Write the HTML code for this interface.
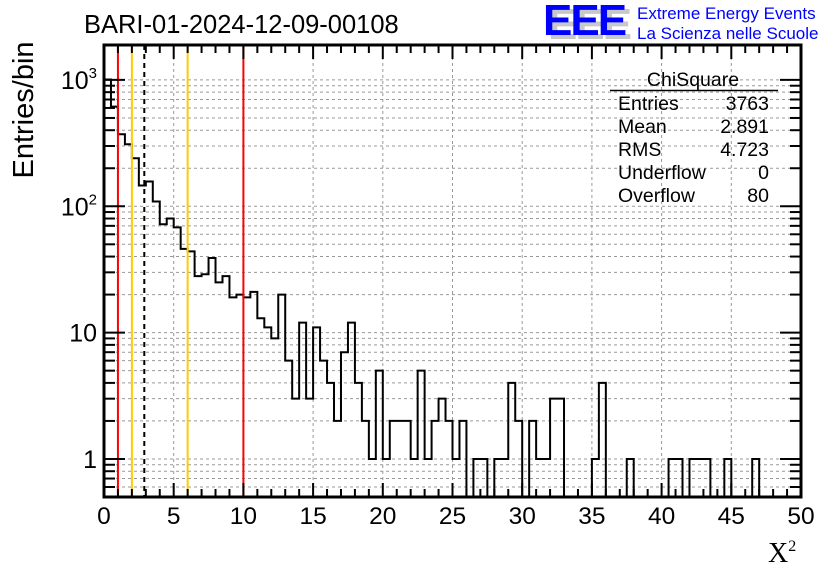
<!DOCTYPE html>
<html><head><meta charset="utf-8"><style>
body{margin:0;background:#fff;}
svg{display:block;font-family:"Liberation Sans",sans-serif;}
</style></head><body>
<svg id="c" width="836" height="572" viewBox="0 0 836 572">
<g id="grid"></g>
<g id="marks"></g>
<g id="axes"></g>
<text x="84" y="33" font-size="25.5">BARI-01-2024-12-09-00108</text>
<g>
<text x="548" y="39" font-size="44" font-weight="bold" fill="#c8c8c8" letter-spacing="-2">EEE</text>
<text x="543" y="35" font-size="44" font-weight="bold" fill="#0000ff" letter-spacing="-2">EEE</text>
<text x="637" y="19" font-size="17" fill="#0000ff">Extreme Energy Events</text>
<text x="637" y="39" font-size="17" fill="#0000ff">La Scienza nelle Scuole</text>
</g>
<text transform="translate(33,110) rotate(-90)" text-anchor="middle" font-size="29">Entries/bin</text>
<text x="768" y="562" font-family="Liberation Serif,serif" font-size="28">X<tspan font-size="16" dy="-11">2</tspan></text>
<g font-size="19.5">
<text x="693" y="86" text-anchor="middle">ChiSquare</text>
<line x1="610" y1="90.5" x2="778" y2="90.5" stroke="#000" stroke-width="1.5"/>
<text x="618" y="110">Entries</text><text x="769" y="110" text-anchor="end">3763</text>
<text x="618" y="133">Mean</text><text x="769" y="133" text-anchor="end">2.891</text>
<text x="618" y="156">RMS</text><text x="769" y="156" text-anchor="end">4.723</text>
<text x="618" y="179">Underflow</text><text x="769" y="179" text-anchor="end">0</text>
<text x="618" y="202">Overflow</text><text x="769" y="202" text-anchor="end">80</text>
</g>
</svg>
<script>
const counts=[1008,615,372,310,240,146,157,109,72,80,68,46,44,28,29,39,25,28,19,20,
19,21,13,11,9,20,6,3,12,3,11,6,4,2,7,12,4,2,1,5,
1,2,2,2,1,5,1,2,3,2,1,2,0,1,1,0,1,1,4,2,
0,2,1,1,3,3,0,0,0,0,1,4,0,0,0,1,0,0,0,0,
0,1,1,0,1,1,1,0,0,1,0,0,0,1,0,0,0,0,0,0];
const binWidth=[0.5];
const xTicks=[0,5,10,15,20,25,30,35,40,45,50];
const yDecades=[1,10,100,1000];
const yLabels=["1","10","10^2","10^3"];
const vLines=[1,2,2.891,6,10];
const vColors=["#ff0000","#ffcc00","#000000","#ffcc00","#ff0000"];

const L=104,R=801,T=45,B=497,YMIN=0.5,YMAX=1890;
const X=v=>L+(v-0)/50*(R-L);
const Y=v=>B-(Math.log10(v)-Math.log10(YMIN))/(Math.log10(YMAX)-Math.log10(YMIN))*(B-T);
const NS="http://www.w3.org/2000/svg";
function mk(tag,attrs,parent){const e=document.createElementNS(NS,tag);for(const k in attrs)e.setAttribute(k,attrs[k]);parent.appendChild(e);return e;}
const grid=document.getElementById('grid'),marks=document.getElementById('marks'),axes=document.getElementById('axes');
for(const t of xTicks){if(t===0||t===50)continue;
 const g=mk('line',{x1:X(t),x2:X(t),y1:T,y2:B,stroke:'#999','stroke-dasharray':'3,3','stroke-width':1},grid);
 
 }
for(const d of [0.1,1,10,100,1000])for(let m=1;m<10;m++){const v=d*m;if(v<=YMIN||v>=YMAX)continue;
 const g=mk('line',{x1:L,x2:R,y1:Y(v),y2:Y(v),stroke:'#999','stroke-dasharray':'3,3','stroke-width':1},grid);
 
 }
let d='';const w=binWidth[0];
for(let i=0;i<counts.length;i++){
 const x0=X(i*w),x1=X((i+1)*w);const y=counts[i]>0?Y(counts[i]):B;
 d+=(i===0?'M'+x0+','+B:'')+'L'+x0+','+y+'L'+x1+','+y;
}
d+='L'+X(counts.length*w)+','+B;
const h=mk('path',{d:d,fill:'none',stroke:'#000','stroke-width':2},marks);


vLines.forEach((v,i)=>{const l=mk('line',{x1:X(v),x2:X(v),y1:T,y2:B,stroke:vColors[i],'stroke-width':2},marks);
 if(i===2)l.setAttribute('stroke-dasharray','5,4');
 
 });
const f=mk('rect',{x:L,y:T,width:R-L,height:B-T,fill:'none',stroke:'#000','stroke-width':3},axes);


for(let v=0;v<=50;v++){const major=v%5===0;const len=major?14:8;
 mk('line',{x1:X(v),x2:X(v),y1:B,y2:B-len,stroke:'#000','stroke-width':2},axes);
 mk('line',{x1:X(v),x2:X(v),y1:T,y2:T+len,stroke:'#000','stroke-width':2},axes);}
xTicks.forEach(t=>{const tx=mk('text',{x:X(t),y:524,'text-anchor':'middle','font-size':24.5},axes);tx.textContent=t;
 
 });
for(const dd of [0.1,1,10,100,1000])for(let m=1;m<10;m++){const v=dd*m;if(v<YMIN||v>YMAX)continue;const len=m===1?21:11;
 mk('line',{x1:L,x2:L+len,y1:Y(v),y2:Y(v),stroke:'#000','stroke-width':2},axes);
 mk('line',{x1:R,x2:R-len,y1:Y(v),y2:Y(v),stroke:'#000','stroke-width':2},axes);}
yDecades.forEach((v,i)=>{const tx=mk('text',{x:97,y:Y(v)+9,'text-anchor':'end','font-size':25},axes);
 const parts=yLabels[i].split('^');
 tx.textContent=parts[0];
 if(parts.length>1){const s=mk('tspan',{'font-size':15,dy:-11},tx);s.textContent=parts[1];}
 
 });
</script>
</body></html>
